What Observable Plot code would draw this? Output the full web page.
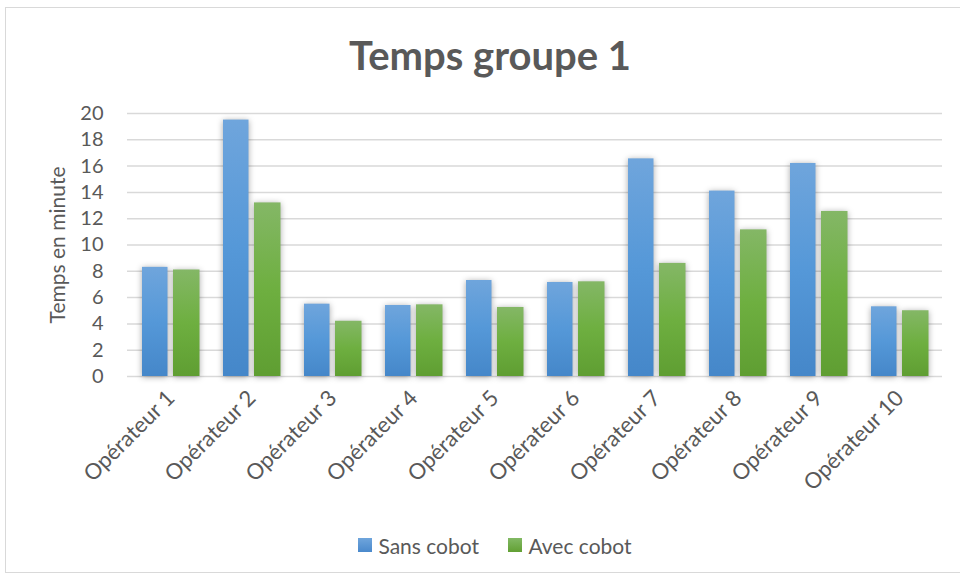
<!DOCTYPE html>
<html>
<head>
<meta charset="utf-8">
<script src="https://cdn.jsdelivr.net/npm/d3@7"></script>
<script src="https://cdn.jsdelivr.net/npm/@observablehq/plot@0.6"></script>
<style>
  html, body { margin: 0; padding: 0; background: #fff; }
  #wrap { position: relative; width: 960px; height: 579px; overflow: hidden; font-family: Lato, "Open Sans", sans-serif; color: #595959; }
  #border { position: absolute; left: 5px; top: 7px; width: 960px; height: 566px; border: 1px solid #d9d9d9; box-sizing: border-box; }
  #title { position: absolute; left: 0; width: 980px; top: 31px; text-align: center; font-size: 40px; font-weight: bold; color: #595959; }
  #chart { position: absolute; left: 0; top: 90px; }
  #legend { position: absolute; top: 531px; left: 0; width: 990px; text-align: center; font-size: 21px; color: #595959; }
  #legend span.item { display: inline-flex; align-items: center; margin: 0 12px; }
  #legend span.sw { display: inline-block; width: 14px; height: 14px; margin-right: 6px; }
  .bars { filter: drop-shadow(0px 1px 3px rgba(0,0,0,0.35)); }
</style>
</head>
<body>
<div id="wrap">
  <div id="border"></div>
  <div id="title">Temps groupe 1</div>
  <div id="chart"></div>
  <div id="legend">
    <span class="item"><span class="sw" style="background:linear-gradient(#6fa5dc,#4a89cc)"></span>Sans cobot</span>
    <span class="item"><span class="sw" style="background:linear-gradient(#82b964,#62a033)"></span>Avec cobot</span>
  </div>
</div>
<script>
const operators = ["Opérateur 1","Opérateur 2","Opérateur 3","Opérateur 4","Opérateur 5","Opérateur 6","Opérateur 7","Opérateur 8","Opérateur 9","Opérateur 10"];
const sansCobot = [8.3, 19.5, 5.5, 5.4, 7.3, 7.15, 16.55, 14.1, 16.2, 5.3];
const avecCobot = [8.1, 13.2, 4.2, 5.45, 5.25, 7.2, 8.6, 11.15, 12.55, 5.0];
const seriesNames = ["Sans cobot", "Avec cobot"];
const yTicks = [0, 2, 4, 6, 8, 10, 12, 14, 16, 18, 20];

const chart = Plot.plot({
  width: 960,
  height: 440,
  marginTop: 23,
  marginBottom: 154,
  marginLeft: 127,
  marginRight: 18,
  style: {fontFamily: "Lato, 'Open Sans', sans-serif", fontSize: "20px", color: "#595959", background: "transparent"},
  x: {domain: operators, padding: 0, label: null},
  y: {domain: [0, 20], label: null},
  marks: [
    Plot.ruleY(yTicks, {stroke: "#d9d9d9", strokeWidth: 1.5}),
    Plot.barY(operators, {x: d => d, y: (d, i) => sansCobot[i], fill: "url(#gBlue)",
      insetLeft: 12, insetRight: 43.5, className: "bars", title: () => seriesNames[0]}),
    Plot.barY(operators, {x: d => d, y: (d, i) => avecCobot[i], fill: "url(#gGreen)",
      insetLeft: 43, insetRight: 11.5, className: "bars", title: () => seriesNames[1]}),
    Plot.axisY({ticks: yTicks, tickSize: 0, tickPadding: 24, label: null, fontSize: 20}),
    Plot.axisX({tickRotate: -45, tickSize: 0, tickPadding: 18, label: null, fontSize: 22}),
    Plot.text(["Temps en minute"], {frameAnchor: "left", textAnchor: "middle", dx: -69, rotate: -90, fontSize: 21, fill: "#595959"})
  ]
});

const defs = document.createElementNS("http://www.w3.org/2000/svg", "defs");
defs.innerHTML = `
  <linearGradient id="gBlue" x1="0" y1="0" x2="0" y2="1">
    <stop offset="0" stop-color="#6fa5dc"/><stop offset="0.5" stop-color="#5598d8"/><stop offset="1" stop-color="#4587c9"/>
  </linearGradient>
  <linearGradient id="gGreen" x1="0" y1="0" x2="0" y2="1">
    <stop offset="0" stop-color="#84b766"/><stop offset="0.5" stop-color="#6eaf40"/><stop offset="1" stop-color="#5f9e32"/>
  </linearGradient>`;
chart.insertBefore(defs, chart.firstChild);
document.getElementById("chart").appendChild(chart);
</script>
</body>
</html>
